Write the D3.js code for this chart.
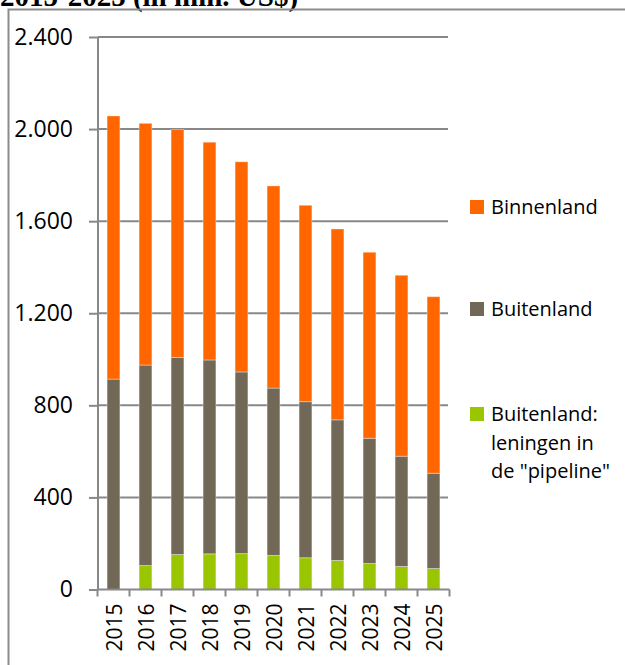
<!DOCTYPE html>
<html>
<head>
<meta charset="utf-8">
<script src="https://cdn.jsdelivr.net/npm/d3@7"></script>
<style>
  body { margin: 0; background: #fff; }
  svg { display: block; }
</style>
</head>
<body>
<svg width="625" height="665"></svg>
<script>
const YEARS = ['2015','2016','2017','2018','2019','2020','2021','2022','2023','2024','2025'];
const PIPELINE = [0, 104, 152, 155, 156, 148, 138, 126, 113, 100, 91];
const BUITENLAND = [914, 871, 856, 842, 789, 727, 678, 611, 544, 479, 414];
const BINNENLAND = [1143, 1050, 990, 946, 913, 878, 853, 829, 808, 786, 767];
const Y_TICKS = [0, 400, 800, 1200, 1600, 2000, 2400];
const SERIES = ['pipeline', 'buitenland', 'binnenland'];
const LEGEND = [
  { key: 'binnenland', lines: ['Binnenland'] },
  { key: 'buitenland', lines: ['Buitenland'] },
  { key: 'pipeline', lines: ['Buitenland:', 'leningen in', 'de "pipeline"'] },
];
const COLORS = { binnenland: '#ff6600', buitenland: '#726857', pipeline: '#99c600' };

const rows = YEARS.map((y, i) => ({
  year: y, pipeline: PIPELINE[i], buitenland: BUITENLAND[i], binnenland: BINNENLAND[i]
}));

const svg = d3.select('svg');
const FONT = '"Open Sans", "Noto Sans", sans-serif';
const GRID = '#888';

// title, cut off at the top like in the source
svg.append('text')
  .attr('x', 0).attr('y', 6)
  .attr('font-family', '"Liberation Serif", "Times New Roman", serif')
  .attr('font-weight', 'bold')
  .attr('font-size', 29)
  .text('2015-2025 (in mln. US$)');

// outer frame (left + top edges)
svg.append('path')
  .attr('d', 'M8.5,665 V9.5 H625')
  .attr('fill', 'none')
  .attr('stroke', '#8c8c8c')
  .attr('stroke-width', 2);

const x = d3.scaleBand()
  .domain(YEARS)
  .range([97.5, 449.5])
  .paddingInner(0.6)
  .paddingOuter(0.3);

const y = d3.scaleLinear()
  .domain([0, 2400])
  .range([589.5, 37]);

const nl = d3.formatLocale({ decimal: ',', thousands: '.', grouping: [3], currency: ['', ''] });
const fmt = nl.format(',');

// y axis + ticks
const yAxis = svg.append('g')
  .attr('transform', 'translate(98,0)')
  .call(d3.axisLeft(y).tickValues(Y_TICKS).tickFormat(fmt).tickSize(9).tickPadding(16));
yAxis.select('.domain').attr('stroke', GRID).attr('stroke-width', 2)
  .attr('d', `M0,${y(2400)}V${y(0)}`);
yAxis.selectAll('.tick line').attr('stroke', GRID).attr('stroke-width', 2);
yAxis.selectAll('.tick text')
  .attr('font-family', FONT).attr('font-size', 23).attr('fill', '#000');

// gridlines
svg.append('g')
  .selectAll('line')
  .data(Y_TICKS.filter(d => d > 0))
  .join('line')
  .attr('x1', 98).attr('x2', 448)
  .attr('y1', d => y(d)).attr('y2', d => y(d))
  .attr('stroke', GRID).attr('stroke-width', 2);

// stacked bars
const stacked = d3.stack().keys(SERIES)(rows);
svg.append('g')
  .selectAll('g')
  .data(stacked)
  .join('g')
  .attr('fill', d => COLORS[d.key])
  .selectAll('rect')
  .data(d => d)
  .join('rect')
  .attr('x', d => x(d.data.year))
  .attr('width', x.bandwidth())
  .attr('y', d => y(d[1]))
  .attr('height', d => y(d[0]) - y(d[1]))
  .attr('stroke', '#fff')
  .attr('stroke-opacity', 0.35)
  .attr('stroke-width', 1);

// x axis with ticks between categories
const xAxisG = svg.append('g').attr('transform', `translate(0,${y(0)})`);
xAxisG.append('line')
  .attr('x1', 97.5).attr('x2', 449.5)
  .attr('stroke', GRID).attr('stroke-width', 2);
const bounds = YEARS.map(d => x(d) - x.step() * x.paddingOuter()).concat([449.5]);
xAxisG.selectAll('.xt')
  .data(bounds)
  .join('line')
  .attr('class', 'xt')
  .attr('x1', d => d).attr('x2', d => d)
  .attr('y1', 0).attr('y2', 7)
  .attr('stroke', GRID).attr('stroke-width', 2);
xAxisG.selectAll('.xl')
  .data(YEARS)
  .join('text')
  .attr('class', 'xl')
  .attr('transform', d => `translate(${x(d) + x.bandwidth() / 2 + 8},${14}) rotate(-90)`)
  .attr('text-anchor', 'end')
  .attr('font-family', FONT)
  .attr('font-size', 21)
  .attr('fill', '#000')
  .text(d => d);

// legend
const legendY = [214, 316, 421];
const leg = svg.append('g')
  .selectAll('g')
  .data(LEGEND)
  .join('g')
  .attr('transform', (d, i) => `translate(470,${legendY[i]})`);
leg.append('rect')
  .attr('x', 0).attr('y', -14)
  .attr('width', 14).attr('height', 14)
  .attr('fill', d => COLORS[d.key]);
leg.append('text')
  .attr('font-family', FONT)
  .attr('font-size', 20)
  .attr('fill', '#000')
  .selectAll('tspan')
  .data(d => d.lines)
  .join('tspan')
  .attr('x', 21)
  .attr('y', (d, i) => i * 28.5)
  .text(d => d);
</script>
</body>
</html>
